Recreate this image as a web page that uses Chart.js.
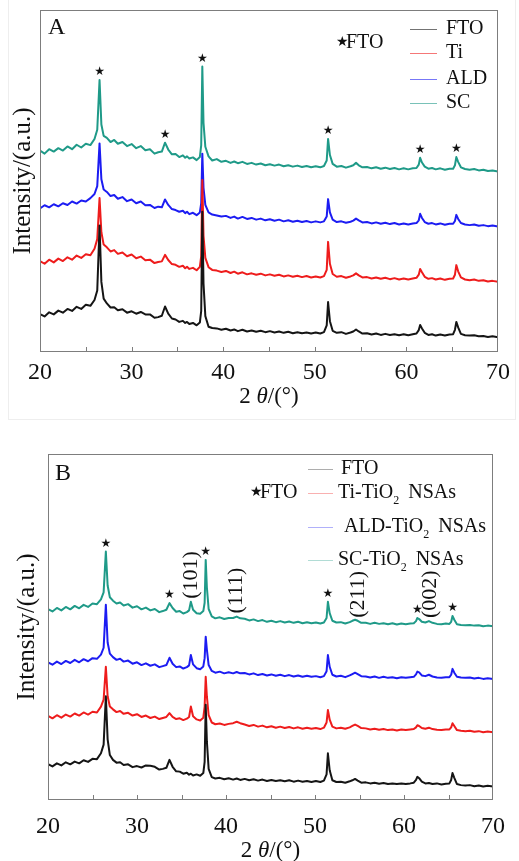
<!DOCTYPE html>
<html>
<head>
<meta charset="utf-8">
<title>XRD patterns</title>
<script src="https://cdn.jsdelivr.net/npm/chart.js@4.4.1/dist/chart.umd.min.js"></script>
<style>
  body { margin: 0; background: #fff; width: 519px; height: 861px; position: relative; overflow: hidden; }
  .panel { position: absolute; left: 0; }
  #boxA { position: absolute; left: 8px; top: -1px; width: 506px; height: 419px; border: 1px solid #eeeeee; }
</style>
</head>
<body>
<div id="boxA"></div>
<canvas id="chartA" class="panel" width="519" height="415" style="top:0"></canvas>
<canvas id="chartB" class="panel" width="519" height="431" style="top:430px"></canvas>
<script>
// 2θ sampling (degrees), denser around the reflections
const twoTheta = [
  20, 20.5, 21, 21.5, 22, 22.5, 23, 23.5, 24, 24.5, 25, 25.5,
  25.95, 26.25, 26.5, 26.7, 26.95, 27.3, 27.7,
  28.1, 28.5, 29, 29.5, 30, 30.5, 31, 31.5, 32, 32.5, 32.9,
  33.3, 33.65, 34, 34.4, 34.8,
  35.2, 35.6, 35.85, 36.05, 36.3, 36.7, 37.1, 37.45,
  37.6, 37.72, 37.85, 38.05, 38.4,
  38.8, 39.3, 39.8, 40.3, 40.8, 41.2, 41.6, 42.1, 42.6, 43.1, 43.6, 44.1, 44.6, 45.1, 45.6, 46.1, 46.6, 47.1, 47.6, 48.1, 48.6, 49.1, 49.6, 50.1, 50.6, 51.0,
  51.3, 51.45, 51.65, 51.95, 52.4,
  52.9, 53.4, 53.9, 54.2, 54.5, 54.8, 55.2, 55.7, 56.2, 56.7, 57.2, 57.7, 58.2, 58.7, 59.2, 59.7, 60.2, 60.7, 61.1,
  61.35, 61.5, 61.7, 62.0, 62.4, 62.8, 63.2, 63.7, 64.2, 64.7, 65.1,
  65.3, 65.45, 65.65, 65.95, 66.4, 66.9, 67.4, 67.9, 68.4, 68.9, 69.4, 70
];

// panel A: substrates / seed layers (stacked, a.u.)
const ftoA = [
  11.1, 10.4, 11.6, 11.0, 12.1, 11.5, 12.6, 12.0, 13.2, 12.6, 13.8, 13.5,
  15.2, 18.0, 37.0, 20.5, 15.6, 14.2, 13.0,
  13.1, 12.2, 12.5, 11.5, 11.9, 11.2, 11.7, 11.0, 11.0, 10.0, 10.2,
  10.6, 13.3, 11.2, 9.8, 9.5,
  8.8, 9.1, 8.5, 8.8, 8.2, 8.5, 7.8, 8.6,
  12.0, 41.0, 20.0, 10.5, 7.4,
  7.0, 6.9, 6.5, 6.8, 6.3, 6.6, 6.1, 6.5, 6.0, 6.3, 5.9, 6.2, 5.8, 6.1, 5.7, 6.0, 5.6, 5.9, 5.5, 5.8, 5.5, 5.7, 5.4, 5.7, 5.4, 5.8,
  7.8, 14.6, 9.0, 6.2, 5.6,
  5.8, 5.3, 5.7, 6.0, 6.6, 6.0, 5.4, 5.5, 5.1, 5.4, 5.0, 5.3, 5.0, 5.2, 4.9, 5.2, 4.9, 5.2, 5.4,
  6.4, 7.9, 6.9, 5.6, 5.0, 5.2, 4.8, 5.1, 4.8, 5.1, 5.2,
  6.5, 8.8, 7.2, 5.3, 4.9, 4.8, 4.9, 4.6, 4.7, 4.4, 4.6, 4.3
];
const tiA = [
  26.6, 25.8, 27.0, 26.2, 27.3, 26.6, 27.7, 27.0, 28.2, 27.5, 28.6, 28.3,
  30.2, 33.0, 45.0, 35.0, 31.4, 30.6, 29.4,
  29.8, 28.7, 29.1, 28.0, 28.5, 27.4, 27.9, 26.8, 27.0, 26.0, 26.3,
  26.5, 28.4, 26.9, 25.7, 25.5,
  24.9, 25.2, 24.5, 24.9, 24.3, 24.6, 23.9, 24.9,
  28.0, 50.3, 34.0, 27.5, 24.8,
  24.0, 23.8, 23.4, 23.7, 23.1, 23.5, 22.9, 23.3, 22.7, 23.0, 22.6, 22.9, 22.4, 22.7, 22.3, 22.6, 22.1, 22.4, 22.0, 22.3, 21.9, 22.2, 21.8, 22.1, 21.8, 22.2,
  24.0, 32.2, 25.8, 22.8, 22.0,
  22.2, 21.7, 22.1, 22.4, 23.0, 22.4, 21.8, 21.9, 21.5, 21.8, 21.4, 21.7, 21.3, 21.6, 21.2, 21.5, 21.2, 21.5, 21.7,
  22.6, 24.3, 23.3, 22.0, 21.4, 21.6, 21.2, 21.5, 21.1, 21.4, 21.5,
  22.6, 25.4, 23.6, 21.8, 21.2, 21.0, 21.2, 20.8, 21.0, 20.6, 20.8, 20.5
];
const aldA = [
  42.0, 42.9, 42.3, 43.2, 42.6, 43.5, 43.0, 44.0, 43.4, 44.3, 44.0, 45.0,
  46.2, 48.5, 61.0, 50.5, 47.5, 46.8, 45.6,
  45.9, 44.8, 45.3, 44.1, 44.6, 43.5, 44.0, 42.9, 43.0, 42.1, 42.5,
  42.3, 44.6, 43.0, 41.8, 41.5,
  41.0, 41.3, 40.6, 41.0, 40.3, 40.7, 40.0, 40.8,
  43.5, 58.0, 48.0, 43.0, 40.8,
  40.2, 39.9, 39.6, 39.8, 39.2, 39.6, 39.0, 39.5, 38.9, 39.2, 38.7, 39.0, 38.5, 38.8, 38.4, 38.7, 38.2, 38.5, 38.1, 38.4, 38.0, 38.3, 37.9, 38.2, 37.9, 38.2,
  39.6, 44.7, 40.8, 38.7, 38.0,
  38.2, 37.8, 38.1, 38.4, 39.0, 38.5, 37.9, 38.0, 37.6, 37.9, 37.5, 37.8, 37.4, 37.7, 37.3, 37.6, 37.3, 37.6, 37.7,
  38.5, 40.4, 39.2, 38.0, 37.5, 37.7, 37.3, 37.6, 37.2, 37.5, 37.5,
  38.3, 40.1, 38.9, 37.7, 37.3, 37.1, 37.3, 36.9, 37.1, 36.8, 37.0, 36.7
];
const scA = [
  58.9, 58.0, 59.3, 58.6, 59.6, 58.9, 60.1, 59.3, 60.6, 59.8, 60.9, 60.5,
  62.3, 65.0, 79.5, 66.5, 63.2, 62.6, 61.4,
  62.0, 60.9, 61.4, 60.2, 60.8, 59.6, 60.2, 59.0, 59.3, 58.0, 58.4,
  58.6, 61.2, 59.2, 57.8, 57.9,
  57.0, 57.5, 56.8, 57.2, 56.6, 56.9, 56.1, 57.0,
  60.5, 83.5, 67.0, 60.0, 57.2,
  56.0, 56.4, 55.6, 55.9, 55.3, 55.7, 55.2, 55.6, 55.0, 55.3, 54.8, 55.1, 54.6, 54.9, 54.5, 54.8, 54.3, 54.6, 54.2, 54.5, 54.1, 54.4, 54.0, 54.3, 54.0, 54.4,
  56.0, 62.3, 57.6, 55.0, 54.2,
  54.4, 53.9, 54.3, 54.6, 55.3, 54.6, 54.0, 54.1, 53.7, 54.0, 53.6, 53.9, 53.5, 53.8, 53.4, 53.7, 53.4, 53.7, 53.8,
  54.8, 56.8, 55.4, 54.2, 53.6, 53.8, 53.4, 53.7, 53.3, 53.6, 53.6,
  54.6, 57.0, 55.6, 54.0, 53.5, 53.3, 53.5, 53.1, 53.3, 52.9, 53.1, 52.8
];

// panel B: TiO2 nanosheet arrays on the same substrates
const ftoB = [
  10.4, 9.7, 10.6, 10.0, 10.9, 10.3, 11.1, 10.6, 11.5, 11.0, 11.9, 11.8,
  13.5, 16.0, 30.0, 17.5, 13.0, 11.6, 10.8,
  10.9, 10.1, 10.3, 9.5, 9.8, 9.4, 10.0, 9.9, 9.6, 8.8, 9.0,
  9.3, 11.6, 9.6, 8.3, 8.2,
  7.6, 7.9, 7.3, 7.6, 7.1, 7.4, 7.0, 7.8,
  11.0, 27.5, 17.0, 9.0, 6.6,
  6.2, 6.4, 6.0, 6.3, 5.9, 6.2, 5.8, 6.1, 5.7, 6.0, 5.6, 5.9, 5.5, 5.8, 5.5, 5.7, 5.4, 5.7, 5.3, 5.6, 5.3, 5.5, 5.2, 5.5, 5.2, 5.6,
  7.4, 13.5, 8.6, 5.7, 5.2,
  5.3, 5.0, 5.4, 5.7, 6.1, 5.6, 5.0, 5.1, 4.8, 5.0, 4.7, 4.9, 4.6, 4.8, 4.6, 4.8, 4.6, 4.8, 5.0,
  5.8, 6.7, 6.3, 5.3, 4.8, 4.9, 4.6, 4.8, 4.5, 4.7, 4.8,
  5.8, 7.8, 6.4, 4.6, 4.3, 4.2, 4.3, 4.0, 4.2, 3.9, 4.1, 3.9
];
const tiB = [
  24.3, 23.6, 24.5, 23.8, 24.7, 24.1, 25.0, 24.4, 25.3, 24.7, 25.5, 25.3,
  27.0, 29.0, 38.5, 30.0, 27.0, 26.2, 25.4,
  25.7, 24.9, 25.2, 24.4, 24.8, 24.0, 24.4, 23.7, 24.1, 23.4, 23.7,
  24.0, 25.1, 24.0, 23.4, 23.6,
  23.1, 23.5, 24.0, 27.0, 24.2, 23.3, 23.0, 23.8,
  27.0, 35.6, 30.0, 24.5, 22.4,
  21.9, 22.1, 21.7, 22.0, 22.2, 22.6, 22.2, 21.8, 21.4, 21.7, 21.2, 21.5, 21.0, 21.3, 20.9, 21.2, 20.8, 21.1, 20.7, 21.0, 20.6, 20.9, 20.6, 20.8, 20.5, 20.9,
  22.4, 26.0, 23.2, 21.2, 20.7,
  20.9, 20.6, 21.0, 21.4, 21.8, 21.4, 20.8, 20.7, 20.4, 20.6, 20.3, 20.5, 20.2, 20.4, 20.1, 20.4, 20.2, 20.4, 20.5,
  21.0, 21.6, 21.4, 20.8, 20.6, 20.9, 20.5, 20.3, 20.2, 20.4, 20.4,
  21.0, 22.2, 21.4, 20.2, 20.0, 19.9, 20.0, 19.7, 19.9, 19.6, 19.8, 19.6
];
const aldB = [
  39.8, 39.1, 40.0, 39.3, 40.2, 39.6, 40.5, 39.8, 40.7, 40.1, 41.0, 40.8,
  42.0, 44.0, 56.4, 45.5, 42.3, 41.3, 40.5,
  40.8, 40.0, 40.3, 39.4, 39.8, 39.0, 39.5, 38.8, 39.2, 38.4, 38.7,
  39.0, 41.1, 39.4, 38.4, 38.6,
  38.0, 38.4, 38.9, 41.9, 39.2, 38.1, 37.8, 38.6,
  41.0, 47.2, 43.5, 39.0, 37.3,
  36.8, 37.1, 36.6, 36.9, 36.6, 37.0, 36.6, 36.7, 36.3, 36.6, 36.1, 36.4, 36.0, 36.3, 35.9, 36.2, 35.8, 36.1, 35.7, 36.0, 35.6, 35.9, 35.6, 35.8, 35.5, 35.8,
  37.2, 41.9, 38.5, 36.2, 35.7,
  35.9, 35.5, 36.0, 36.4, 36.8, 36.4, 35.8, 35.7, 35.4, 35.7, 35.3, 35.6, 35.3, 35.5, 35.2, 35.5, 35.3, 35.5, 35.6,
  36.3, 37.1, 36.9, 36.0, 35.8, 36.2, 35.7, 35.4, 35.3, 35.5, 35.5,
  36.2, 37.9, 36.8, 35.6, 35.4, 35.3, 35.4, 35.1, 35.3, 35.0, 35.2, 35.0
];
const scB = [
  55.2, 54.5, 55.5, 54.8, 55.8, 55.1, 56.1, 55.4, 56.4, 55.8, 56.8, 56.6,
  58.0, 60.0, 71.8, 62.0, 58.6, 57.6, 56.8,
  57.1, 56.2, 56.6, 55.6, 56.0, 55.1, 55.6, 54.8, 55.2, 54.3, 54.6,
  55.0, 56.9, 55.5, 54.4, 54.6,
  53.9, 54.3, 54.8, 57.3, 55.0, 54.0, 53.8, 54.6,
  57.0, 69.4, 61.5, 55.2, 53.1,
  52.5, 52.8, 52.3, 52.6, 52.6, 53.0, 52.5, 52.4, 51.9, 52.2, 51.7, 52.0, 51.5, 51.8, 51.4, 51.7, 51.3, 51.6, 51.2, 51.5, 51.1, 51.4, 51.1, 51.3, 51.0, 51.3,
  52.6, 57.3, 54.0, 51.8, 51.3,
  51.4, 51.0, 51.4, 51.8, 52.1, 51.8, 51.2, 51.2, 50.9, 51.2, 50.9, 51.1, 50.8, 51.1, 50.7, 51.0, 50.8, 51.0, 51.1,
  51.7, 52.6, 52.3, 51.5, 51.3, 51.7, 51.2, 50.9, 50.8, 51.0, 50.9,
  51.5, 53.2, 52.1, 50.8, 50.6, 50.5, 50.6, 50.4, 50.5, 50.2, 50.4, 50.2
];

const labelsA = ['FTO', 'Ti', 'ALD', 'SC'];
const labelsB = ['FTO', 'Ti-TiO₂ NSAs', 'ALD-TiO₂ NSAs', 'SC-TiO₂ NSAs'];
const traceColors = ['#151515', '#ee1c1c', '#1c1cf2', '#1f9a88'];
const starPeaks = [26.5, 33.65, 37.72, 51.45, 61.5, 65.45];   // FTO reflections
const millerText = ['(101)', '(111)', '(211)', '(002)'];
const millerPeaks = [36.05, 41.2, 54.8, 62.9];

Chart.defaults.font.family = '"Liberation Serif", "Times New Roman", serif';
Chart.defaults.color = '#111';

function drawSub(ctx, text, x, y, size) {
  // "₂" is drawn as a small lowered 2
  const parts = text.split('₂');
  let cx = x;
  parts.forEach((p, k) => {
    ctx.font = size + 'px "Liberation Serif"';
    ctx.fillText(p, cx, y);
    cx += ctx.measureText(p).width;
    if (k < parts.length - 1) {
      ctx.font = Math.round(size * 0.62) + 'px "Liberation Serif"';
      ctx.fillText('2', cx, y + size * 0.38);
      cx += ctx.measureText('2').width + size * 0.2;
    }
  });
}

function nearestIndex(v) {
  let best = 0;
  twoTheta.forEach((t, i) => { if (Math.abs(t - v) < Math.abs(twoTheta[best] - v)) best = i; });
  return best;
}

const xrdDecor = {
  id: 'xrdDecor',
  afterDatasetsDraw(chart, args, o) {
    const { ctx, chartArea: a, scales: { x, y } } = chart;
    const sets = chart.data.datasets;
    const upper = sets[sets.length - 1].data;
    ctx.save();

    // frame + inward ticks
    ctx.strokeStyle = '#7d7d7d';
    ctx.lineWidth = 1;
    ctx.strokeRect(a.left + 0.5, a.top + 0.5, a.right - a.left - 1, a.bottom - a.top - 1);
    x.ticks.forEach(t => {
      if (t.value <= x.min || t.value >= x.max) return;
      const px = Math.round(x.getPixelForValue(t.value)) + 0.5;
      ctx.beginPath();
      ctx.moveTo(px, a.bottom);
      ctx.lineTo(px, a.bottom - 5);
      ctx.stroke();
    });

    ctx.fillStyle = '#111';
    ctx.textBaseline = 'middle';
    ctx.textAlign = 'left';
    ctx.font = '24px "Liberation Serif"';
    ctx.fillText(o.panel, o.panelX, o.panelY);

    // stars over the FTO peaks
    ctx.textAlign = 'center';
    ctx.font = '12px "DejaVu Sans"';
    starPeaks.forEach(p => {
      const pt = upper[twoTheta.indexOf(p)];
      ctx.fillText('★', x.getPixelForValue(pt.x), y.getPixelForValue(pt.y) - 8);
    });
    ctx.textAlign = 'left';
    ctx.font = '14px "DejaVu Sans"';
    ctx.fillText('★', o.keyX - 6, o.keyY - 1);
    ctx.font = '20px "Liberation Serif"';
    ctx.fillText('FTO', o.keyX + 4, o.keyY);

    // legend
    sets.forEach((ds, i) => {
      const ly = o.legendY[i] + 0.5;
      ctx.globalAlpha = o.legendAlpha;
      ctx.strokeStyle = ds.borderColor;
      ctx.beginPath();
      ctx.moveTo(o.legendX, ly);
      ctx.lineTo(o.legendX + o.legendLen, ly);
      ctx.stroke();
      ctx.globalAlpha = 1;
      drawSub(ctx, ds.label, o.legendTextX[i], o.legendY[i], 20);
    });

    // anatase indices, written upward just above the top trace
    if (o.miller) {
      ctx.font = '22px "Liberation Serif"';
      millerText.forEach((txt, k) => {
        const pt = upper[nearestIndex(millerPeaks[k])];
        ctx.save();
        ctx.translate(x.getPixelForValue(millerPeaks[k]), y.getPixelForValue(pt.y) - 3);
        ctx.rotate(-Math.PI / 2);
        ctx.textAlign = 'left';
        ctx.fillText(txt, 0, 0);
        ctx.restore();
      });
    }

    // x title: 2θ/(°)
    const parts = [['2 ', ''], ['θ', 'italic '], ['/(°)', '']];
    let w = 0;
    parts.forEach(p => { ctx.font = p[1] + '23px "Liberation Serif"'; w += ctx.measureText(p[0]).width; });
    let cx = (a.left + a.right) / 2 - w / 2;
    parts.forEach(p => {
      ctx.font = p[1] + '23px "Liberation Serif"';
      ctx.fillText(p[0], cx, o.titleY);
      cx += ctx.measureText(p[0]).width;
    });
    ctx.restore();
  }
};

function makeChart(id, series, labels, geo, deco) {
  const datasets = series.map((vals, i) => ({
    label: labels[i],
    data: twoTheta.map((t, k) => ({ x: t, y: vals[k] })),
    borderColor: traceColors[i],
    borderWidth: 2,
    borderJoinStyle: 'round',
    pointRadius: 0,
    tension: 0
  }));
  return new Chart(document.getElementById(id), {
    type: 'line',
    data: { datasets: datasets },
    plugins: [xrdDecor],
    options: {
      responsive: false,
      animation: false,
      layout: { padding: { top: geo.top, right: geo.right, left: 0, bottom: 0 } },
      scales: {
        x: {
          type: 'linear', min: 20, max: 70,
          grid: { display: false, drawTicks: false },
          border: { display: false },
          ticks: {
            stepSize: 5, autoSkip: false, maxRotation: 0,
            padding: geo.tickPad,
            font: { size: 24 },
            callback: v => (v % 10 === 0 ? v : '')
          },
          afterFit: s => { s.height = geo.xHeight; }
        },
        y: {
          min: 0, max: 100,
          grid: { display: false, drawTicks: false },
          border: { display: false },
          ticks: { display: false },
          title: { display: true, text: 'Intensity/(a.u.)', font: { size: 25 }, padding: { top: geo.yTitlePad, bottom: 0 } },
          afterFit: s => { s.width = geo.yWidth; }
        }
      },
      plugins: {
        legend: { display: false },
        tooltip: { enabled: false },
        xrdDecor: deco
      }
    }
  });
}

makeChart('chartA', [ftoA, tiA, aldA, scA], labelsA,
  { top: 10, right: 21, xHeight: 63, yWidth: 40, tickPad: 6, yTitlePad: 8 },
  { panel: 'A', panelX: 48, panelY: 28, keyX: 342, keyY: 43,
    legendX: 410, legendLen: 27, legendY: [29, 53, 79, 103], legendTextX: [446, 446, 446, 446],
    legendAlpha: 0.6, miller: false, titleY: 397 });

makeChart('chartB', [ftoB, tiB, aldB, scB], labelsB,
  { top: 24, right: 26, xHeight: 61, yWidth: 48, tickPad: 12, yTitlePad: 12 },
  { panel: 'B', panelX: 55, panelY: 44, keyX: 256, keyY: 63,
    legendX: 308, legendLen: 25, legendY: [39, 63, 97, 130], legendTextX: [341, 338, 344, 338],
    legendAlpha: 0.35, miller: true, titleY: 421 });
</script>
</body>
</html>
